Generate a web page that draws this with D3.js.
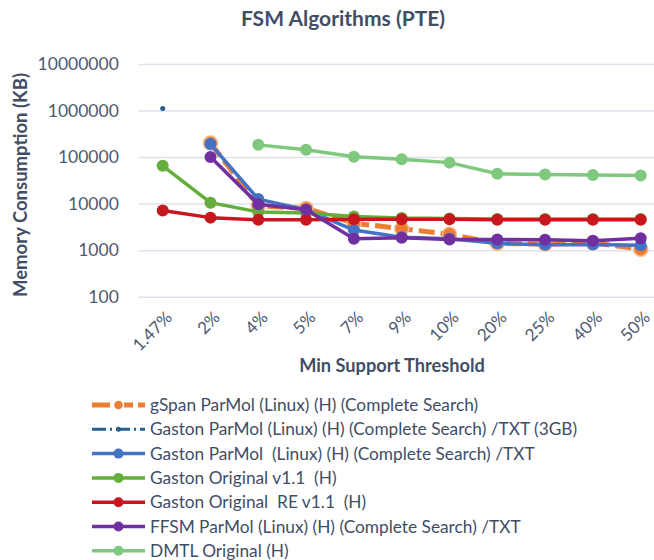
<!DOCTYPE html>
<html>
<head>
<meta charset="utf-8">
<script src="https://cdn.jsdelivr.net/npm/d3@7"></script>
<style>
  body { margin: 0; background: #fff; }
  svg { display: block; font-family: Lato, "Open Sans", sans-serif; }
  text { white-space: pre; }
</style>
</head>
<body>
<svg id="chart" width="654" height="560"></svg>
<script>
const categories = ['1.47%', '2%', '4%', '5%', '7%', '9%', '10%', '20%', '25%', '40%', '50%'];
const yTicks = [100, 1000, 10000, 100000, 1000000, 10000000];

const gspanParmol = [null, 200000, 9000, 7900, 3800, 2900, 2200, 1400, 1350, 1450, 1050];
const gaston3gb = [1100000, null, null, null, null, null, null, null, null, null, null];
const gastonParmol = [null, 190000, 12500, 7400, 2700, 1900, 1750, 1400, 1300, 1320, 1270];
const gastonOriginal = [65000, 10500, 6600, 6300, 5300, 4900, 4800, 4700, 4700, 4700, 4700];
const gastonRE = [7100, 5000, 4500, 4500, 4600, 4600, 4600, 4500, 4500, 4500, 4500];
const ffsmParmol = [null, 100000, 9700, 7400, 1750, 1850, 1700, 1700, 1680, 1600, 1800];
const dmtlOriginal = [null, null, 183000, 143000, 102000, 90000, 76000, 44000, 42000, 41000, 40000];

const seriesNames = [
    'gSpan ParMol (Linux) (H) (Complete Search)',
    'Gaston ParMol (Linux) (H) (Complete Search) /TXT (3GB)',
    'Gaston ParMol  (Linux) (H) (Complete Search) /TXT',
    'Gaston Original v1.1  (H)',
    'Gaston Original  RE v1.1  (H)',
    'FFSM ParMol (Linux) (H) (Complete Search) /TXT',
    'DMTL Original (H)'
];

const series = [
    { name: seriesNames[0], values: gspanParmol, color: '#ED7D31', width: 5, dash: '16,6', r: 7, halo: '#F6B98F' },
    { name: seriesNames[1], values: gaston3gb, color: '#255E91', width: 3, dash: '10,4,2,4', r: 2.5 },
    { name: seriesNames[2], values: gastonParmol, color: '#4472C4', width: 3.5, r: 6 },
    { name: seriesNames[3], values: gastonOriginal, color: '#66AE3C', width: 3.5, r: 6 },
    { name: seriesNames[4], values: gastonRE, color: '#C8171E', width: 3.5, r: 6 },
    { name: seriesNames[5], values: ffsmParmol, color: '#7030A0', width: 3.5, r: 6 },
    { name: seriesNames[6], values: dmtlOriginal, color: '#7FC97F', width: 3.5, r: 6 }
];

const svg = d3.select('#chart');
const textColor = '#3F4E66';
const tickColor = '#4F5B70';

const plotLeft = 138.8, plotRight = 664.6;
const plotTop = 64, plotBottom = 296.7;

const xScale = d3.scalePoint()
    .domain(categories)
    .range([plotLeft, plotRight])
    .padding(0.5);

const yScale = d3.scaleLog()
    .domain([100, 10000000])
    .range([plotBottom, plotTop]);

// title
svg.append('text')
    .attr('x', 343)
    .attr('y', 26)
    .attr('text-anchor', 'middle')
    .attr('fill', textColor)
    .style('font-size', '21px')
    .style('font-weight', 'bold')
    .text('FSM Algorithms (PTE)');

// y axis with gridlines
const yAxis = d3.axisLeft(yScale)
    .tickValues(yTicks)
    .tickFormat(d3.format('d'))
    .tickSize(-(plotRight - plotLeft))
    .tickPadding(20);

const yAxisG = svg.append('g')
    .attr('transform', `translate(${plotLeft}, 0)`)
    .call(yAxis);

yAxisG.select('.domain').remove();
yAxisG.selectAll('line').attr('stroke', '#DCE3EC').attr('stroke-width', 1.5);
yAxisG.selectAll('text')
    .attr('fill', tickColor)
    .style('font-size', '17.5px')
    .style('font-family', 'Lato, sans-serif');

// x axis labels, rotated
const xAxis = d3.axisBottom(xScale).tickSize(0).tickPadding(0);
const xAxisG = svg.append('g')
    .attr('transform', `translate(0, ${plotBottom})`)
    .call(xAxis);
xAxisG.select('.domain').remove();
xAxisG.selectAll('text')
    .attr('fill', tickColor)
    .style('font-size', '17px')
    .style('font-family', 'Lato, sans-serif')
    .attr('text-anchor', 'end')
    .attr('dy', null)
    .attr('y', null)
    .attr('transform', 'translate(10, 22) rotate(-45)');

// axis titles
svg.append('text')
    .attr('x', 392)
    .attr('y', 372)
    .attr('text-anchor', 'middle')
    .attr('fill', textColor)
    .style('font-size', '18.2px')
    .style('font-weight', 'bold')
    .text('Min Support Threshold');

svg.append('text')
    .attr('transform', 'translate(27, 185) rotate(-90)')
    .attr('text-anchor', 'middle')
    .attr('fill', textColor)
    .style('font-size', '18.5px')
    .style('font-weight', 'bold')
    .text('Memory Consumption (KB)');

// lines and markers
const line = d3.line()
    .defined(d => d.v != null)
    .x(d => xScale(d.c))
    .y(d => yScale(d.v));

const plotG = svg.append('g');

series.forEach(s => {
    const pts = categories.map((c, i) => ({ c: c, v: s.values[i] }));
    const g = plotG.append('g');
    g.append('path')
        .datum(pts)
        .attr('fill', 'none')
        .attr('stroke', s.color)
        .attr('stroke-width', s.width)
        .attr('stroke-dasharray', s.dash || null)
        .attr('stroke-linejoin', 'round')
        .attr('d', line);
    g.selectAll('circle')
        .data(pts.filter(d => d.v != null))
        .enter().append('circle')
        .attr('cx', d => xScale(d.c))
        .attr('cy', d => yScale(d.v))
        .attr('r', s.r)
        .attr('fill', s.color)
        .attr('stroke', s.halo || 'none')
        .attr('stroke-width', s.halo ? 1.5 : 0);
});

// legend
const legendTop = 405, legendStep = 24.3;
const legend = svg.append('g');
series.forEach((s, i) => {
    const y = legendTop + i * legendStep;
    legend.append('line')
        .attr('x1', 92).attr('x2', 145)
        .attr('y1', y).attr('y2', y)
        .attr('stroke', s.color)
        .attr('stroke-width', s.width)
        .attr('stroke-dasharray', s.dash ? (i === 0 ? '18,5' : '14,4,2,4') : null);
    legend.append('circle')
        .attr('cx', 118.5).attr('cy', y)
        .attr('r', i === 0 ? 5 : (i === 1 ? 2.5 : 5))
        .attr('fill', s.color)
        .attr('stroke', i === 0 ? '#fff' : 'none')
        .attr('stroke-width', i === 0 ? 1.5 : 0);
    legend.append('text')
        .attr('x', 150)
        .attr('y', y + 6)
        .attr('fill', textColor)
        .style('font-size', '17.3px')
        .text(s.name);
});
</script>
</body>
</html>
